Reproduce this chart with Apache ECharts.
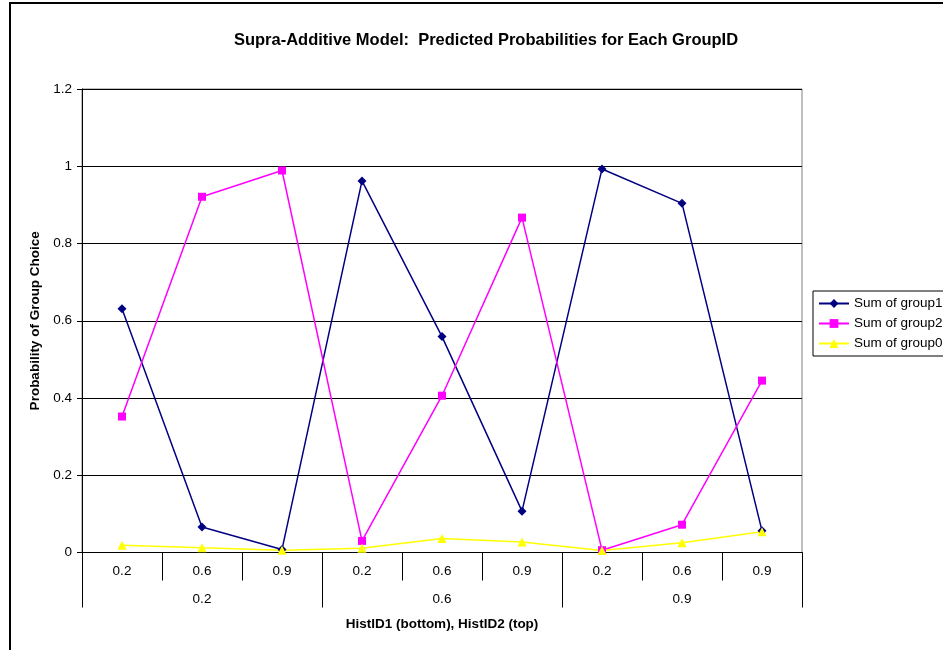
<!DOCTYPE html>
<html>
<head>
<meta charset="utf-8">
<script src="https://cdn.jsdelivr.net/npm/echarts@6/dist/echarts.min.js"></script>
<style>
  html, body { margin: 0; padding: 0; background: #ffffff; }
  #chart { width: 943px; height: 650px; }
</style>
</head>
<body>
<div id="chart"></div>
<script>
// HistID2 values (inner row) and HistID1 groups (outer row)
const histId2Labels = ['0.2', '0.6', '0.9', '0.2', '0.6', '0.9', '0.2', '0.6', '0.9'];
const histId1Labels = ['0.2', '0.6', '0.9'];
const yTicks = [0, 0.2, 0.4, 0.6, 0.8, 1, 1.2];

// Predicted probabilities per GroupID
const sumGroup1 = [0.631, 0.066, 0.008, 0.962, 0.559, 0.107, 0.993, 0.904, 0.056];
const sumGroup2 = [0.352, 0.921, 0.989, 0.030, 0.406, 0.867, 0.006, 0.072, 0.445];
const sumGroup0 = [0.019, 0.012, 0.006, 0.011, 0.036, 0.027, 0.005, 0.025, 0.054];

const font = 'Liberation Sans, Arial, sans-serif';
const chart = echarts.init(document.getElementById('chart'), null, { renderer: 'canvas' });

chart.setOption({
  animation: false,
  backgroundColor: '#ffffff',
  textStyle: { fontFamily: font },
  graphic: [
    {
      type: 'rect',
      shape: { x: 10, y: 3, width: 960, height: 700 },
      style: { fill: 'none', stroke: '#000000', lineWidth: 2 },
      silent: true
    },
    {
      type: 'text',
      x: 486, y: 40,
      style: {
        text: 'Supra-Additive Model:  Predicted Probabilities for Each GroupID',
        font: 'bold 16.5px ' + font,
        fill: '#000000',
        align: 'center',
        verticalAlign: 'middle'
      }
    }
  ],
  grid: {
    left: 82, right: 141, top: 89, bottom: 97.5,
    show: true, borderColor: '#808080', borderWidth: 1, backgroundColor: '#ffffff'
  },
  legend: {
    orient: 'vertical',
    left: 813, top: 291,
    padding: [5, 40, 5, 5],
    borderColor: '#000000', borderWidth: 1,
    itemWidth: 30, itemHeight: 11, itemGap: 5,
    textStyle: { fontSize: 13.5, color: '#000000', lineHeight: 15, fontFamily: font },
    data: ['Sum of group1', 'Sum of group2', 'Sum of group0']
  },
  xAxis: [
    {
      type: 'category',
      data: histId2Labels,
      position: 'bottom',
      boundaryGap: true,
      axisLine: { lineStyle: { color: '#000000', width: 1 } },
      axisTick: { show: true, length: 28, lineStyle: { color: '#000000' } },
      axisLabel: { fontSize: 13.5, color: '#000000', margin: 12, fontFamily: font },
      splitLine: { show: false }
    },
    {
      type: 'category',
      data: histId1Labels,
      position: 'bottom',
      boundaryGap: true,
      axisLine: { show: false },
      axisTick: { show: true, length: 55, lineStyle: { color: '#000000' } },
      axisLabel: { fontSize: 13.5, color: '#000000', margin: 40, fontFamily: font },
      splitLine: { show: false },
      name: 'HistID1 (bottom), HistID2 (top)',
      nameLocation: 'middle',
      nameGap: 65,
      nameTextStyle: { fontSize: 13.5, fontWeight: 'bold', color: '#000000', fontFamily: font }
    }
  ],
  yAxis: {
    type: 'value',
    min: yTicks[0],
    max: yTicks[yTicks.length - 1],
    interval: 0.2,
    axisLine: { show: true, lineStyle: { color: '#000000' } },
    axisTick: { show: true, length: 5, lineStyle: { color: '#000000' } },
    axisLabel: {
      fontSize: 13.5, color: '#000000', margin: 10, fontFamily: font,
      formatter: v => String(+v.toFixed(1))
    },
    splitLine: { show: true, lineStyle: { color: '#000000', width: 1 } },
    name: 'Probability of Group Choice',
    nameLocation: 'middle',
    nameRotate: 90,
    nameGap: 36,
    nameTextStyle: { fontSize: 13.5, fontWeight: 'bold', color: '#000000', fontFamily: font }
  },
  series: [
    {
      name: 'Sum of group1', type: 'line', xAxisIndex: 0, data: sumGroup1,
      symbol: 'diamond', symbolSize: 9,
      lineStyle: { color: '#000080', width: 1.5 },
      itemStyle: { color: '#000080' }
    },
    {
      name: 'Sum of group2', type: 'line', xAxisIndex: 0, data: sumGroup2,
      symbol: 'rect', symbolSize: 8,
      lineStyle: { color: '#ff00ff', width: 1.5 },
      itemStyle: { color: '#ff00ff' }
    },
    {
      name: 'Sum of group0', type: 'line', xAxisIndex: 0, data: sumGroup0,
      symbol: 'triangle', symbolSize: 9,
      lineStyle: { color: '#ffff00', width: 1.5 },
      itemStyle: { color: '#ffff00' }
    }
  ]
});
</script>
</body>
</html>
